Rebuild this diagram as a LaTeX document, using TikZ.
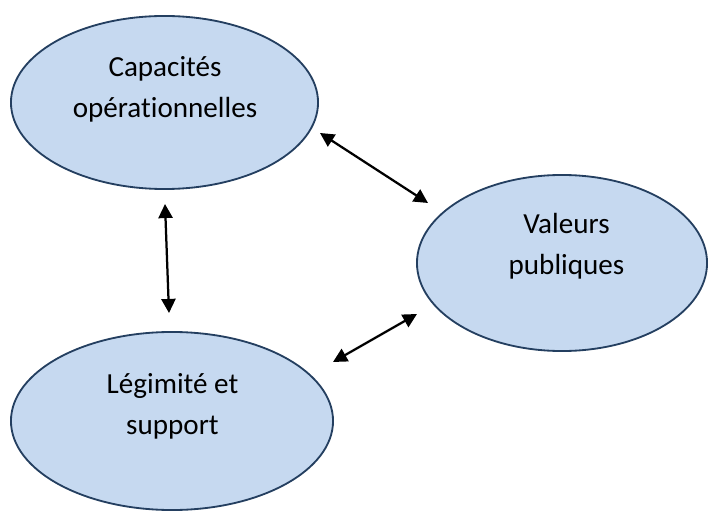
\documentclass[tikz,border=0pt]{standalone}
\usepackage{fontspec}
\setmainfont{Carlito}[RawFeature={-liga;-clig;-calt}]
\usepackage{xcolor}
\usetikzlibrary{shapes.geometric,arrows.meta}

\definecolor{ovalfill}{RGB}{198,217,240}
\definecolor{ovalline}{RGB}{36,63,96}

\tikzset{
  oval/.style={ellipse, draw=ovalline, fill=ovalfill, line width=1.3pt, inner sep=0pt},
  lbl/.style={align=center, font=\fontsize{20.7}{29}\selectfont},
  link/.style={{Triangle[length=10pt,width=10pt]}-{Triangle[length=10pt,width=10pt]}, line width=1.6pt}
}

\begin{document}
\begin{tikzpicture}[x=0.025cm,y=-0.025cm]

\useasboundingbox (0,0) rectangle (708,511);

\node[oval, minimum width=7.675cm, minimum height=4.325cm] (cap) at (164.5,102.5) {};
\node[oval, minimum width=7.25cm, minimum height=4.4cm] (val) at (562,263) {};
\node[oval, minimum width=8.05cm, minimum height=4.45cm] (leg) at (172,421) {};

\node[lbl] (captxt) at (165,89) {Capacités\\opérationnelles};
\node[lbl] (valtxt) at (566.5,246) {Valeurs\\publiques};
\node[lbl] (legtxt) at (172.5,406.5) {Légimité et\\support};

\coordinate (capval) at (320,133);
\coordinate (valcap) at (428,203);
\coordinate (capleg) at (165,204);
\coordinate (legcap) at (169,313);
\coordinate (legval) at (333,362);
\coordinate (vallegs) at (417,314);

\draw[link] (capval) -- (valcap);
\draw[link] (capleg) -- (legcap);
\draw[link] (legval) -- (vallegs);

\end{tikzpicture}
\end{document}
